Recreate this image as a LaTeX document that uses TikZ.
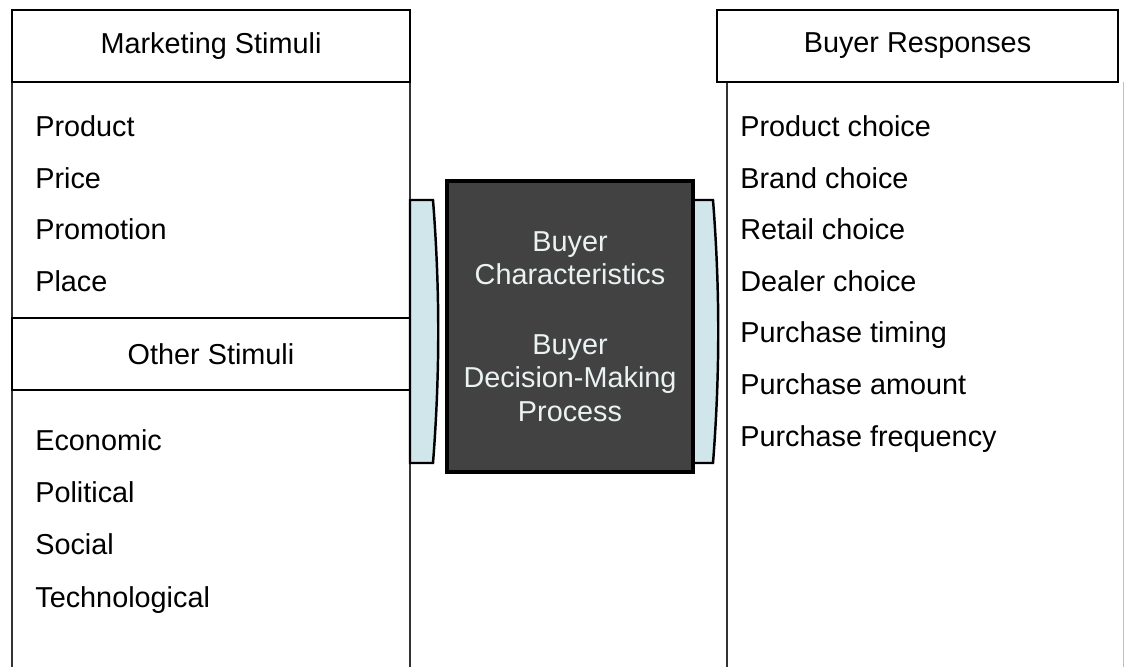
\documentclass[tikz,border=0pt]{standalone}
\usepackage{fontspec}
\setmainfont{Liberation Sans}
\definecolor{sidefill}{RGB}{208,230,234}
\definecolor{corefill}{RGB}{66,66,66}
\definecolor{coretext}{RGB}{234,242,242}
\tikzset{
  headbox/.style={draw, line width=1.2pt, minimum width=7.96cm, minimum height=1.44cm,
                  inner sep=0pt, font=\fontsize{16.4}{19}\selectfont},
  item/.style={anchor=base west, inner sep=0pt, font=\fontsize{16.4}{19}\selectfont},
  colline/.style={line width=0.7pt, black!80},
  sidearrow/.style={draw, line width=1.4pt, fill=sidefill},
}
\begin{document}
\begin{tikzpicture}[x=0.02cm, y=-0.02cm]
   \useasboundingbox (0,0) rectangle (1125,667);

   \draw [colline] (12,  82) -- (12,  667);
   \draw [colline] (410, 82) -- (410, 667);
   \draw [colline] (727, 82) -- (727, 667);
   \draw [colline, black!25] (1123.5, 82) -- (1123.5, 667);

   \node [headbox] (mstim) at (211, 46)  {Marketing Stimuli};
   \node [headbox] (ostim) at (211, 354) {Other Stimuli};
   \node [headbox, minimum width=8.02cm] (bresp) at (917.5, 46) {Buyer Responses};

   \draw [sidearrow] (410, 200) -- (433, 200) .. controls (440, 290) and (440, 373) .. (433, 463) -- (410, 463) -- cycle;
   \draw [sidearrow] (690, 200) -- (713, 200) .. controls (720, 290) and (720, 373) .. (713, 463) -- (690, 463) -- cycle;

   \node [draw, line width=1.8pt, fill=corefill, text=coretext, minimum width=4.92cm, minimum height=5.82cm,
          align=center, font=\fontsize{16.4}{19}\selectfont] (core) at (570, 326.5)
         {Buyer\\Characteristics\\[20.5pt]Buyer\\Decision-Making\\Process};

   \node [item] (product)   at (35, 136) {Product};
   \node [item] (price)     at (35, 188) {Price};
   \node [item] (promotion) at (35, 239) {Promotion};
   \node [item] (place)     at (35, 291) {Place};

   \node [item] (economic)  at (35, 450) {Economic};
   \node [item] (political) at (35, 502) {Political};
   \node [item] (social)    at (35, 554) {Social};
   \node [item] (techno)    at (35, 607) {Technological};

   \node [item] (prodch)    at (740, 136) {Product choice};
   \node [item] (brandch)   at (740, 188) {Brand choice};
   \node [item] (retailch)  at (740, 239) {Retail choice};
   \node [item] (dealerch)  at (740, 291) {Dealer choice};
   \node [item] (ptiming)   at (740, 342) {Purchase timing};
   \node [item] (pamount)   at (740, 394) {Purchase amount};
   \node [item] (pfreq)     at (740, 446) {Purchase frequency};
\end{tikzpicture}
\end{document}
